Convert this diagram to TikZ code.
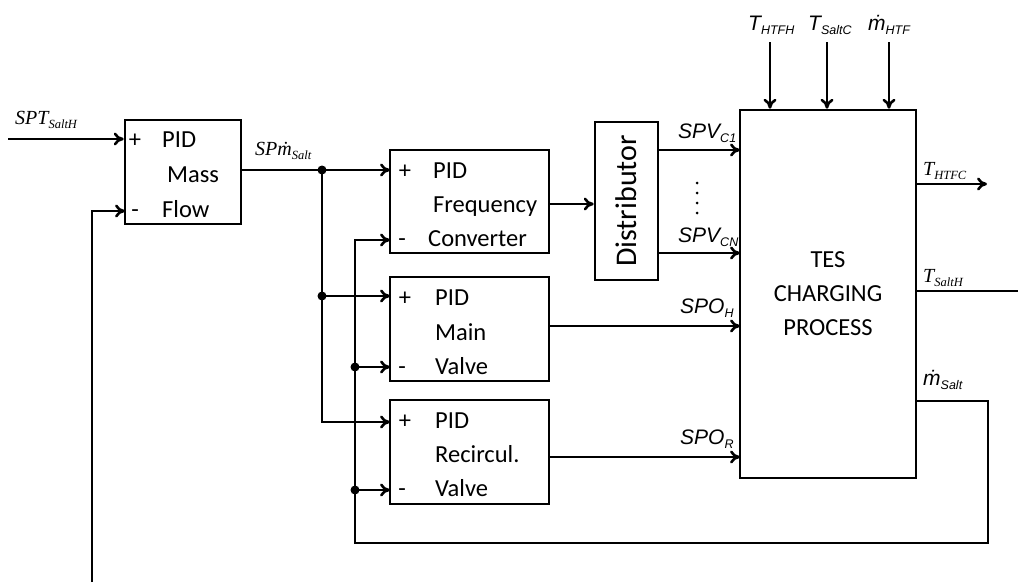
\documentclass[tikz,border=0pt]{standalone}
\usepackage{fontspec}
\setmainfont{Carlito}
\newfontfamily\serifit{Liberation Serif}
\newfontfamily\sansit{Liberation Sans}
\usetikzlibrary{arrows.meta}
\newcommand\lsub[1]{\raisebox{-4.5pt}{\fontsize{12.5}{13}\selectfont #1}}
\tikzset{blk/.style={draw,line width=2.6pt,inner sep=0pt},
         wire/.style={line width=2.6pt,-{To[length=10pt,width=13pt]}},
         wireplain/.style={line width=2.6pt},
         jdot/.style={circle,fill,inner sep=0pt,minimum size=9pt},
         ctext/.style={font=\fontsize{24.5}{34}\selectfont,anchor=base west,inner sep=0pt},
         csign/.style={font=\fontsize{24.5}{34}\selectfont,anchor=base,inner sep=0pt},
         lser/.style={font=\fontsize{20}{24}\selectfont\serifit\itshape,anchor=base west,inner sep=0pt},
         lsans/.style={font=\fontsize{21}{24}\selectfont\sansit\itshape,anchor=base west,inner sep=0pt}}

\begin{document}
\begin{tikzpicture}[x=1pt,y=-1pt]
    \useasboundingbox (0,0) rectangle (1018,582);
    % blocks
    \node[blk,minimum width=116pt,minimum height=104pt] (mfpid) at (183,172) {};
    \node[blk,minimum width=159pt,minimum height=103pt] (fcpid) at (469.5,201.5) {};
    \node[blk,minimum width=159pt,minimum height=104pt] (mvpid) at (469.5,329) {};
    \node[blk,minimum width=159pt,minimum height=104pt] (rvpid) at (469.5,452) {};
    \node[blk,minimum width=63pt,minimum height=158pt,font=\fontsize{30}{34}\selectfont] (dist) at (626.5,201) {\rotatebox{90}{Distributor}};
    \node[blk,minimum width=176pt,minimum height=368pt,align=center,font=\fontsize{24.5}{34}\selectfont] (tes) at (828,294) {TES\\CHARGING\\PROCESS};
    % block texts
    \node[csign] (mfplus) at (135,147) {+};
    \node[ctext] (mfa) at (162,147) {PID};
    \node[ctext] (mfb) at (167,182) {Mass};
    \node[csign] (mfminus) at (135,217) {-};
    \node[ctext] (mfc) at (162,217) {Flow};
    \node[csign] (fcplus) at (405,178) {+};
    \node[ctext] (fca) at (433,178) {PID};
    \node[ctext] (fcb) at (433,212) {Frequency};
    \node[csign] (fcminus) at (402,246) {-};
    \node[ctext] (fcc) at (428,246) {Converter};
    \node[csign] (mvplus) at (405,305) {+};
    \node[ctext] (mva) at (435,305) {PID};
    \node[ctext] (mvb) at (435,340) {Main};
    \node[csign] (mvminus) at (402,374) {-};
    \node[ctext] (mvc) at (435,374) {Valve};
    \node[csign] (rvplus) at (405,428) {+};
    \node[ctext] (rva) at (435,428) {PID};
    \node[ctext] (rvb) at (435,462) {Recircul.};
    \node[csign] (rvminus) at (402,496) {-};
    \node[ctext] (rvc) at (435,496) {Valve};
    % inputs of the PID blocks
    \coordinate (sptin) at (8,139);
    \coordinate (fbin) at (92,582);
    \coordinate (mfm) at (125,211);
    \coordinate (fcp) at (390,170);
    \coordinate (fcm) at (390,240);
    \coordinate (mvp) at (390,296);
    \coordinate (mvm) at (390,367);
    \coordinate (rvp) at (390,422);
    \coordinate (rvm) at (390,490);
    \coordinate (ja) at (322,170);
    \coordinate (jb) at (322,296);
    \coordinate (jc) at (355,240);
    \coordinate (jd) at (355,367);
    \coordinate (je) at (355,490);
    \draw[wire] (sptin) -- (sptin -| mfpid.west);
    \draw[wire] (fbin) |- (mfm);
    \draw[wire] (mfpid.east |- fcp) -- (fcp);
    \draw[wire] (ja) |- (rvp);
    \draw[wire] (jb) -- (mvp);
    \node[jdot] (dota) at (ja) {};
    \node[jdot] (dotb) at (jb) {};
    % feedback of the salt mass flow
    \coordinate (msout) at (916,401);
    \coordinate (fbc) at (988,543);
    \draw[wire] (msout) -| (fbc) -| (jc) -- (fcm);
    \draw[wire] (jd) -- (mvm);
    \draw[wire] (je) -- (rvm);
    \node[jdot] (dotd) at (jd) {};
    \node[jdot] (dote) at (je) {};
    % outputs
    \coordinate (dv1) at (740,150);
    \coordinate (dvn) at (740,253);
    \coordinate (spo) at (740,326);
    \coordinate (spr) at (740,457);
    \draw[wire] (fcpid.east |- 0,204) -- (dist.west |- 0,204);
    \draw[wire] (dist.east |- dv1) -- (dv1);
    \draw[wire] (dist.east |- dvn) -- (dvn);
    \draw[wire] (mvpid.east |- spo) -- (spo);
    \draw[wire] (rvpid.east |- spr) -- (spr);
    \foreach \y in {183,193,203,213} \fill (697,\y) circle (1.5pt);
    \foreach \x/\n in {770/thtfh,827/tsaltc,889/mhtf} {
        \coordinate (\n) at (\x,42);
        \draw[wire] (\n) -- (\n |- tes.north);
    }
    \coordinate (thtfc) at (987,184);
    \coordinate (tsalth) at (1018,291);
    \draw[wire] (thtfc -| tes.east) -- (thtfc);
    \draw[wireplain] (tsalth -| tes.east) -- (tsalth);
    % signal labels
    \node[lser] (lspt) at (15,124) {SPT\lsub{SaltH}};
    \node[lser] (lspm) at (255,155) {SPṁ\lsub{Salt}};
    \node[lsans] (lspv1) at (678,138) {SPV\lsub{C1}};
    \node[lsans] (lspvn) at (678,242) {SPV\lsub{CN}};
    \node[lsans] (lspoh) at (680,313) {SPO\lsub{H}};
    \node[lsans] (lspor) at (680,444) {SPO\lsub{R}};
    \node[lsans] (lthtfh) at (748,30) {T\lsub{HTFH}};
    \node[lsans] (ltsaltc) at (808,30) {T\lsub{SaltC}};
    \node[lsans] (lmhtf) at (868,30) {ṁ\lsub{HTF}};
    \node[lser] (lthtfc) at (923,175) {T\lsub{HTFC}};
    \node[lser] (ltsalth) at (923,282) {T\lsub{SaltH}};
    \node[lsans] (lmsalt) at (923,385) {ṁ\lsub{Salt}};
\end{tikzpicture}
\end{document}
